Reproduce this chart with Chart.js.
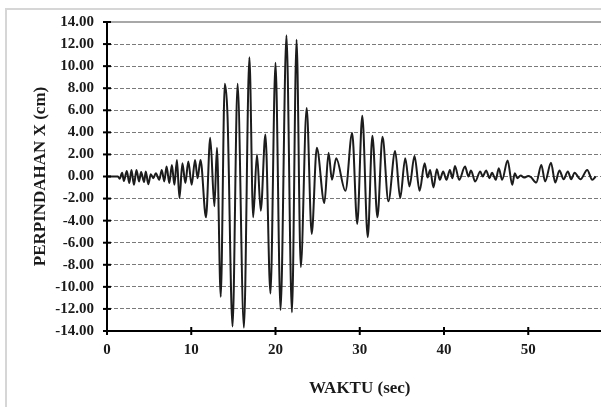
<!DOCTYPE html>
<html>
<head>
<meta charset="utf-8">
<script src="https://cdn.jsdelivr.net/npm/chart.js@4"></script>
<style>
  html, body { margin: 0; padding: 0; background: #fff; overflow: hidden; width: 601px; height: 407px; }
  #wrap { position: absolute; left: 0; top: 0; width: 630px; height: 407px; }
</style>
</head>
<body>
<div id="wrap"><canvas id="c" width="630" height="407"></canvas></div>
<script>
// ---- data ----
const timeSec = [
  0, 1.3, 1.5, 1.8, 2.0, 2.35, 2.65, 2.9, 3.2, 3.5, 3.8, 4.05, 4.4, 4.6, 4.9, 5.2, 5.5, 5.8,
  6.2, 6.5, 6.8, 7.07, 7.4, 7.7, 8.0, 8.3, 8.6, 8.95, 9.3, 9.65, 10.05, 10.45, 10.75, 11.1,
  11.75, 12.25, 12.75, 13.05, 13.5, 13.98, 14.3, 14.9, 15.5, 16.25, 16.9, 17.35, 17.8, 18.25,
  18.8, 19.4, 20.0, 20.6, 21.3, 21.95, 22.5, 23.0, 23.7, 24.3, 24.9, 25.8, 26.3, 26.7, 27.2,
  28.3, 29.1, 29.7, 30.3, 30.95, 31.5, 32.1, 32.7, 33.4, 34.2, 34.8, 35.4, 35.9, 36.5, 37.1,
  37.7, 38.05, 38.35, 38.75, 39.15, 39.5, 39.9, 40.3, 40.7, 41.0, 41.3, 41.8, 42.5, 42.9, 43.2,
  43.7, 44.3, 44.6, 45.0, 45.4, 45.7, 46.15, 46.5, 46.9, 47.55, 48.1, 48.4, 48.7, 49.1, 49.5,
  50.0, 50.3, 50.95, 51.55, 52.0, 52.7, 53.2, 53.7, 54.2, 54.7, 55.1, 55.5, 56.2, 57.0, 57.6, 58.0
];
const displacementX = [
  0, 0, -0.2, 0.35, -0.4, 0.5, -0.6, 0.6, -0.75, 0.6, -0.45, 0.4, -0.5, 0.45, -0.7, 0.2, -0.15, 0.3,
  -0.3, 0.6, -0.45, 0.9, -0.6, 1.05, -0.75, 1.5, -1.95, 1.2, -0.6, 1.35, -0.75, 1.5, -0.15, 1.5,
  -3.7, 3.5, -2.7, 2.6, -10.9, 8.4, 5.6, -13.6, 8.4, -13.7, 10.8, -3.7, 2.0, -3.1,
  3.8, -10.6, 10.3, -12.1, 12.8, -12.3, 12.4, -8.2, 6.2, -5.2, 2.6, -2.4, 2.15, -0.3, 1.65,
  -1.3, 3.95, -4.3, 5.5, -5.5, 3.7, -3.7, 3.6, -2.25, 2.3, -1.95, 1.65, -0.9, 1.85, -1.3,
  1.2, -0.1, 0.6, -1.0, 0.65, -0.3, 0.45, -0.3, 0.6, -0.15, 0.95, -0.3, 0.9, 0.0, 0.55,
  -0.45, 0.45, 0.0, 0.55, -0.15, 0.35, -0.3, 0.75, -0.3, 1.45, -0.75, 0.3, -0.15, 0.1, -0.1,
  0.05, -0.05, -0.55, 1.05, -0.45, 1.25, -0.55, 0.55, -0.25, 0.45, -0.25, 0.35, -0.25, 0.6, -0.3, 0.0
];
const xTickValues = [0, 10, 20, 30, 40, 50, 60];
const yTickValues = [-14, -12, -10, -8, -6, -4, -2, 0, 2, 4, 6, 8, 10, 12, 14];
const xTitle = 'WAKTU (sec)';
const yTitle = 'PERPINDAHAN X (cm)';

const points = timeSec.map((t, i) => ({ x: t, y: displacementX[i] }));
const serif = "'Liberation Serif', 'Times New Roman', serif";

const decor = {
  id: 'decor',
  beforeDraw(chart) {
    const ctx = chart.ctx;
    ctx.save();
    ctx.fillStyle = '#fff';
    ctx.fillRect(0, 0, chart.width, chart.height);
    ctx.strokeStyle = '#d6d6d6';
    ctx.lineWidth = 2;
    ctx.strokeRect(6, 9, chart.width + 20, chart.height + 20);
    ctx.restore();
  },
  afterDraw(chart) {
    const ctx = chart.ctx;
    const a = chart.chartArea;
    const xs = chart.scales.x, ys = chart.scales.y;
    ctx.save();
    // plot-area top edge
    ctx.strokeStyle = '#a8a8a8';
    ctx.lineWidth = 2;
    ctx.beginPath();
    ctx.moveTo(a.left, a.top);
    ctx.lineTo(a.right, a.top);
    ctx.stroke();
    // cross tick marks
    ctx.strokeStyle = '#000';
    ctx.lineWidth = 2;
    ys.ticks.forEach(t => {
      const py = ys.getPixelForValue(t.value);
      ctx.beginPath();
      ctx.moveTo(a.left - 4, py);
      ctx.lineTo(a.left + 4, py);
      ctx.stroke();
    });
    xs.ticks.forEach(t => {
      const px = xs.getPixelForValue(t.value);
      ctx.beginPath();
      ctx.moveTo(px, a.bottom - 4);
      ctx.lineTo(px, a.bottom + 4);
      ctx.stroke();
    });
    ctx.restore();
  }
};

new Chart(document.getElementById('c'), {
  type: 'line',
  data: {
    datasets: [{
      data: points,
      borderColor: '#1c1c1c',
      borderWidth: 2,
      pointRadius: 0,
      cubicInterpolationMode: 'monotone',
      fill: false
    }]
  },
  options: {
    responsive: false,
    animation: false,
    devicePixelRatio: 1,
    parsing: true,
    layout: { padding: { top: 19, right: 11, left: 0, bottom: 0 } },
    plugins: { legend: { display: false }, tooltip: { enabled: false } },
    scales: {
      x: {
        type: 'linear',
        min: 0, max: 60,
        afterBuildTicks(scale) { scale.ticks = xTickValues.map(v => ({ value: v })); },
        afterFit(scale) { scale.height = 76; },
        grid: { display: false, drawTicks: false },
        border: { display: true, color: '#000', width: 2 },
        ticks: {
          padding: 10,
          color: '#1a1a1a',
          font: { family: serif, size: 15, weight: 'bold' },
          maxRotation: 0,
          callback: v => String(v)
        },
        title: {
          display: true, text: xTitle, color: '#1a1a1a',
          font: { family: serif, size: 17, weight: 'bold' },
          padding: { top: 0, bottom: 8 }
        }
      },
      y: {
        type: 'linear',
        min: -14, max: 14,
        afterBuildTicks(scale) { scale.ticks = yTickValues.map(v => ({ value: v })); },
        afterFit(scale) { scale.width = 107; },
        grid: {
          drawTicks: false,
          lineWidth: 1,
          color: c => (c.tick && (c.tick.value === 14 || c.tick.value === -14)) ? 'rgba(0,0,0,0)' : '#7a7a7a'
        },
        border: { display: true, color: '#000', width: 2, dash: [4, 2] },
        ticks: {
          padding: 13,
          color: '#1a1a1a',
          font: { family: serif, size: 15, weight: 'bold' },
          callback: v => Number(v).toFixed(2)
        },
        title: {
          display: true, text: yTitle, color: '#1a1a1a',
          font: { family: serif, size: 17, weight: 'bold' },
          padding: { top: 30, bottom: 0 }
        }
      }
    }
  },
  plugins: [decor]
});
</script>
</body>
</html>
